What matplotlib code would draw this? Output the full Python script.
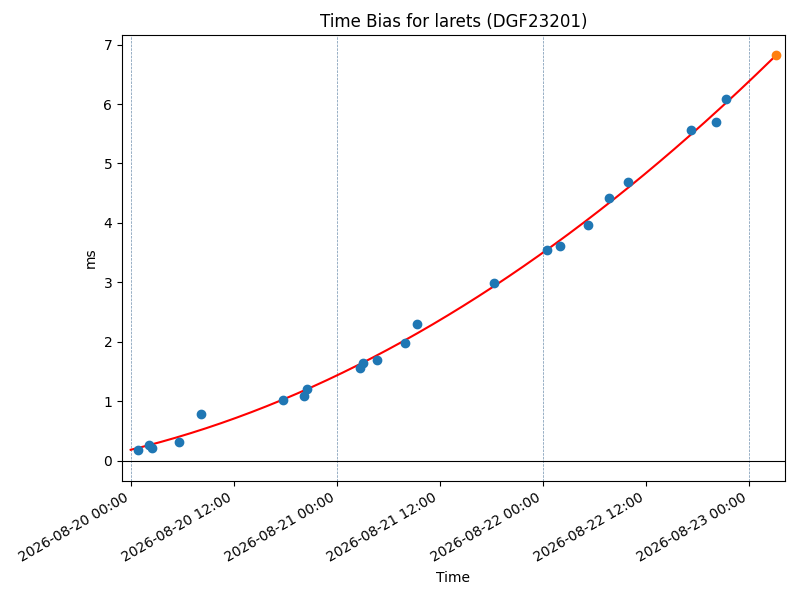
import numpy as np
import pandas as pd
import matplotlib
matplotlib.use("Agg")
import matplotlib.pyplot as plt
import matplotlib.dates as mdates

title = "Time Bias for larets (DGF23201)"
origin = pd.Timestamp("2026-08-20 00:00")

# observation times (hours after 2026-08-20 00:00) and time bias (ms)
obs_hours = [0.85, 2.13, 2.48, 5.59, 8.19, 17.75, 20.2, 20.55,
             26.7, 27.07, 28.7, 31.97, 33.37, 42.3, 48.52, 50.03,
             53.3, 55.75, 58.0, 65.3, 68.2, 69.43]
obs_bias = [0.18, 0.27, 0.22, 0.32, 0.79, 1.03, 1.09, 1.21,
            1.56, 1.645, 1.70, 1.98, 2.30, 2.99, 3.55, 3.61,
            3.96, 4.42, 4.69, 5.57, 5.69, 6.09]

pred_hours = 75.17
pred_bias = 6.82

curve_start_hours = 0.0
day_lines = ["2026-08-20", "2026-08-21", "2026-08-22", "2026-08-23"]
xlim_hours = (-1.01, 76.25)

obs_t = [origin + pd.Timedelta(hours=h) for h in obs_hours]
pred_t = origin + pd.Timedelta(hours=pred_hours)

coef = np.polyfit(obs_hours, obs_bias, 2)
th = np.linspace(curve_start_hours, pred_hours, 300)
curve_t = [origin + pd.Timedelta(hours=h) for h in th]
curve_v = np.polyval(coef, th)

fig, ax = plt.subplots(figsize=(8, 6), dpi=100)
fig.subplots_adjust(left=0.1525, right=0.98125, top=0.9417, bottom=0.1983)

for d in day_lines:
    ax.axvline(pd.Timestamp(d), color="#6f8fae", linestyle="--", linewidth=0.5)
ax.axhline(0, color="black", linewidth=0.8)

ax.plot(curve_t, curve_v, color="red", linewidth=1.5, zorder=2)
ax.scatter(obs_t, obs_bias, color="C0", s=36, zorder=3)
ax.scatter([pred_t], [pred_bias], color="C1", s=36, zorder=3)

ax.set_xlim(origin + pd.Timedelta(hours=xlim_hours[0]),
            origin + pd.Timedelta(hours=xlim_hours[1]))
ax.xaxis.set_major_locator(mdates.HourLocator(byhour=[0, 12]))
ax.xaxis.set_major_formatter(mdates.DateFormatter("%Y-%m-%d %H:%M"))
ax.set_title(title)
ax.set_xlabel("Time")
ax.set_ylabel("ms")
fig.autofmt_xdate()
fig.subplots_adjust(left=0.1525, right=0.98125, top=0.9417, bottom=0.1983)

fig.savefig("out.png", dpi=100)
